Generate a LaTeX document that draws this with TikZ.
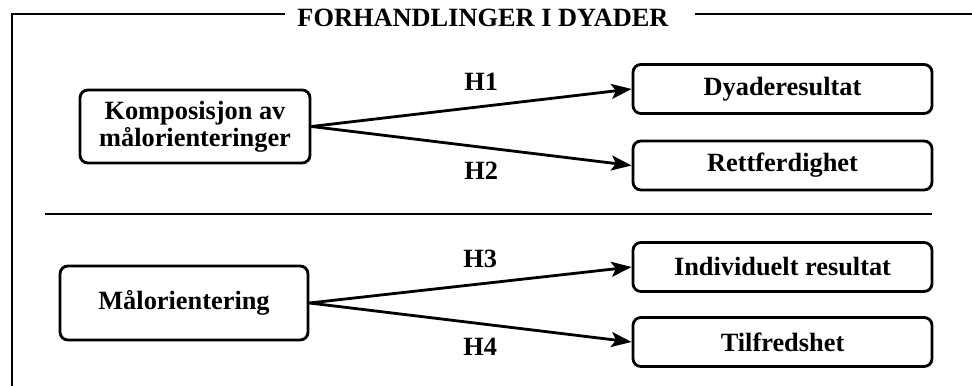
\documentclass[tikz,border=0pt]{standalone}
\usepackage{fontspec}
\setmainfont{Liberation Serif}
\usetikzlibrary{arrows.meta}

\begin{document}
\begin{tikzpicture}
  [line width=1.6pt,every node/.style={font=\fontsize{15}{15.6}\selectfont\bfseries}]
  \tikzstyle{box} = [draw,rounded corners=4.5pt,align=center,inner sep=0pt]
  \tikzstyle{goal} = [box,minimum width=5.98cm,minimum height=0.98cm]
  \tikzstyle{hyp} = [-{Stealth[length=11.5pt,width=8.5pt,inset=2.5pt]}]
  \tikzstyle{hup} = [above=0.17cm]
  \tikzstyle{hdown} = [below=0.15cm]
  \useasboundingbox (0,0) rectangle (19.44,7.72);
  % frame with the heading set into the top line
  \node[anchor=base] (t) at (9.66,7.18) {FORHANDLINGER I DYADER};
  \coordinate (c1) at (0.24,0);
  \coordinate (c2) at (0.24,7.44);
  \coordinate (c3) at (19.44,7.44);
  \draw (c1) -- (c2) -- (5.7,7.44);
  \draw (13.9,7.44) -- (c3);
  % dyad level
  \node[box,minimum width=4.6cm,minimum height=1.46cm] (n1) at (3.9,5.19) {Komposisjon av\\målorienteringer};
  \node[goal] (n2) at (15.65,5.94) {Dyaderesultat};
  \node[goal] (n3) at (15.65,4.41) {Rettferdighet};
  \draw[line width=0.8pt] (0.9,3.44) -- (18.64,3.44);
  % individual level
  \node[box,minimum width=4.96cm,minimum height=1.48cm] (n4) at (3.68,1.66) {Målorientering};
  \node[goal] (n5) at (15.65,2.38) {Individuelt resultat};
  \node[goal] (n6) at (15.65,0.88) {Tilfredshet};
\foreach \source /\dest /\hyp /\side in {n1/n2/H1/hup,n1/n3/H2/hdown,n4/n5/H3/hup,n4/n6/H4/hdown}
   \draw[hyp] (\source.east) --node[pos=0.53,\side] {\hyp}  (\dest.west);

\end{tikzpicture}
\end{document}
